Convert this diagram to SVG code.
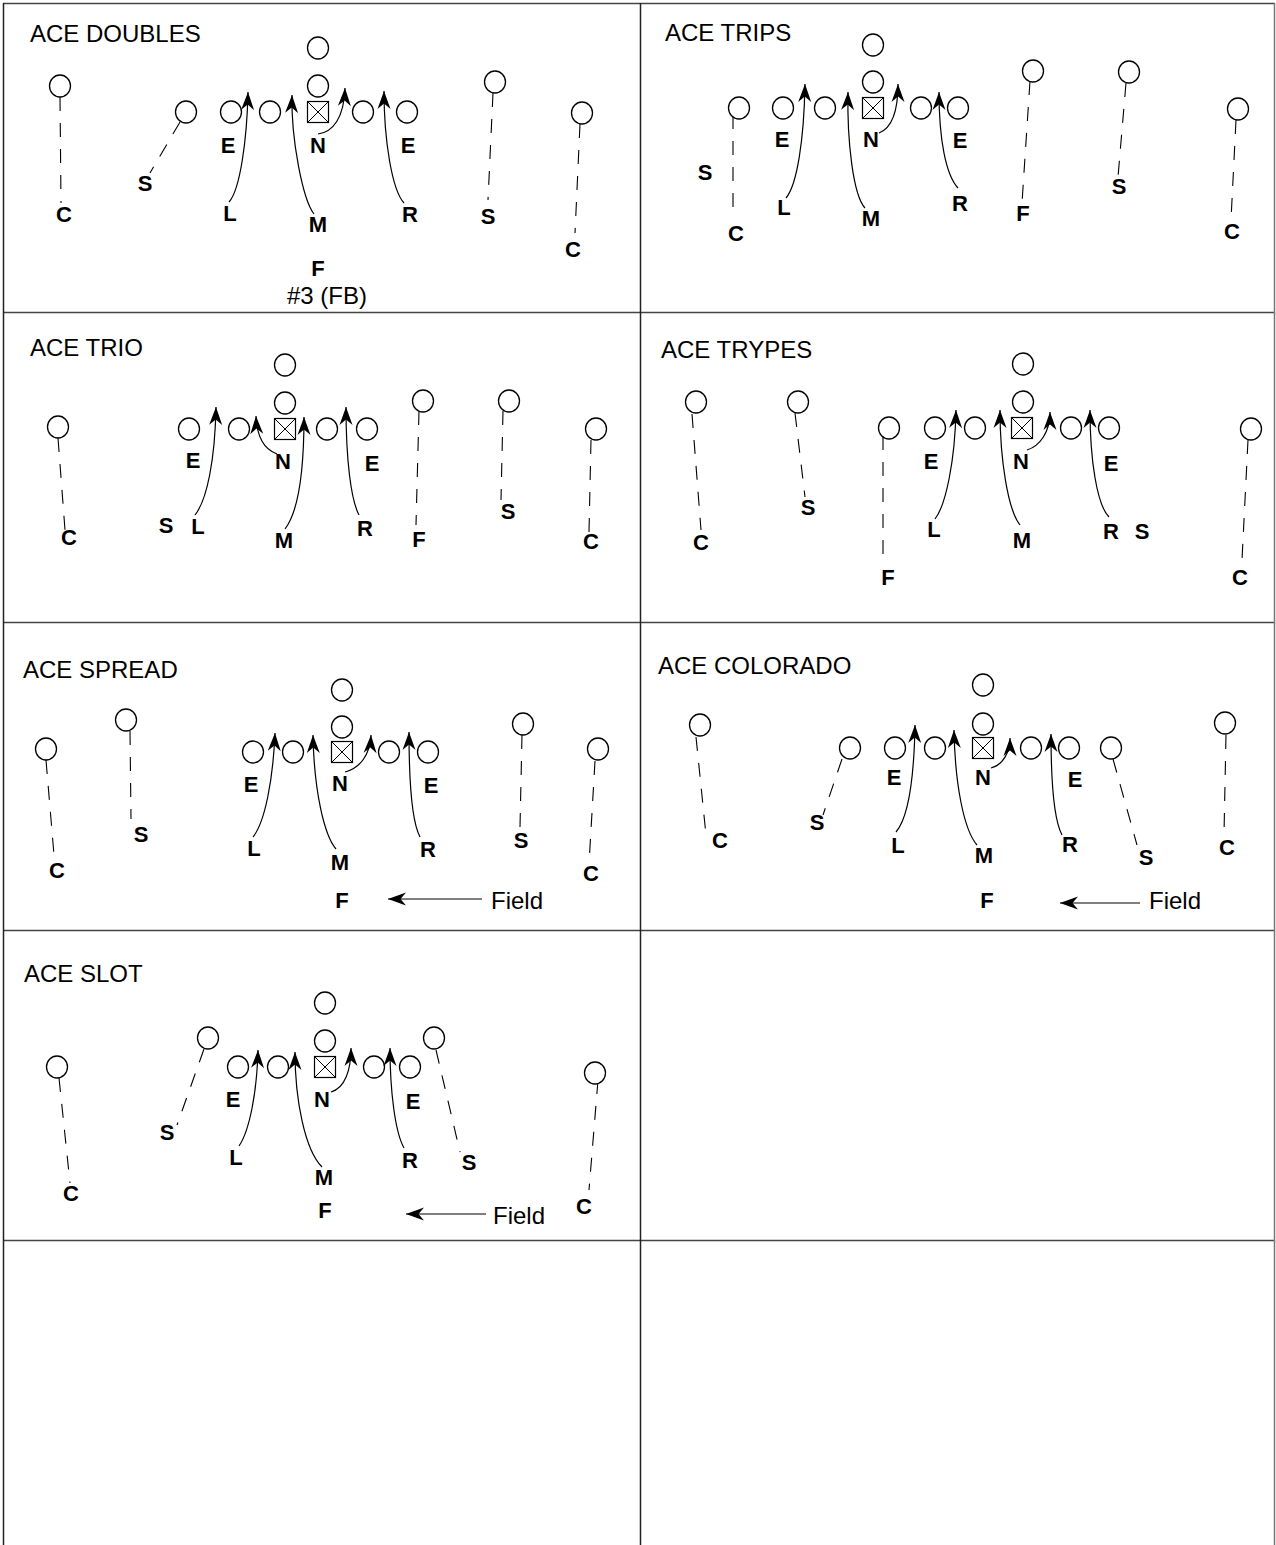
<svg xmlns="http://www.w3.org/2000/svg" width="1276" height="1545" viewBox="0 0 1276 1545">
<style>
.bg{fill:#fff}
.gh{stroke:#444;stroke-width:1.5}
.gv{stroke:#222;stroke-width:1.5}
.gr{stroke:#777;stroke-width:1.5}
.p{fill:#fff;stroke:#000;stroke-width:1.3}
.bx{fill:#fff;stroke:#000;stroke-width:1.2}
.d{fill:none;stroke:#000;stroke-width:1.1;stroke-dasharray:14 12}
.a{fill:none;stroke:#000;stroke-width:1.2;marker-end:url(#ah)}
.lb{font-family:"Liberation Sans",Arial,sans-serif;font-weight:bold;font-size:22px;text-anchor:middle;fill:#000}
.t{font-family:"Liberation Sans",Arial,sans-serif;font-size:24px;fill:#000}
</style>
<defs>
<marker id="ah" markerUnits="userSpaceOnUse" markerWidth="22" markerHeight="16" viewBox="-20 -8 22 16" refX="0" refY="0" orient="auto"><path d="M0,0 L-18,-6.5 L-12.5,0 L-18,6.5 Z" fill="#000"/></marker>
<ellipse id="pl" cx="0" cy="0" rx="10.5" ry="11" class="p"/>
<g id="ctr"><rect x="-10.5" y="-10.5" width="21" height="21" class="bx"/><path d="M-10.5,-10.5 L10.5,10.5 M10.5,-10.5 L-10.5,10.5" stroke="#000" stroke-width="1"/></g>
</defs>
<rect class="bg" x="0" y="0" width="1276" height="1545"/>
<g id="grid">
<line class="gh" x1="3" y1="3.5" x2="1275" y2="3.5"/>
<line class="gh" x1="3" y1="312.5" x2="1275" y2="312.5"/>
<line class="gh" x1="3" y1="622.5" x2="1275" y2="622.5"/>
<line class="gh" x1="3" y1="930.5" x2="1275" y2="930.5"/>
<line class="gh" x1="3" y1="1240.5" x2="1275" y2="1240.5"/>
<line class="gv" x1="3.5" y1="3" x2="3.5" y2="1545"/>
<line class="gv" x1="640.5" y1="3" x2="640.5" y2="1545"/>
<line class="gr" x1="1274.5" y1="3" x2="1274.5" y2="1545"/>
</g>

<g id="connectors">
<!-- ACE DOUBLES -->
<line class="d" x1="60" y1="97" x2="61" y2="203"/>
<line class="d" x1="180" y1="122" x2="150" y2="173"/>
<line class="d" x1="493" y1="93" x2="488" y2="200"/>
<line class="d" x1="580" y1="124" x2="575" y2="233"/>
<!-- ACE TRIPS -->
<line class="d" x1="733" y1="115" x2="733" y2="213"/>
<line class="d" x1="1030" y1="81" x2="1022" y2="203"/>
<line class="d" x1="1126" y1="83" x2="1118" y2="177"/>
<line class="d" x1="1236" y1="120" x2="1231" y2="220"/>
<!-- ACE TRIO -->
<line class="d" x1="58" y1="438" x2="65" y2="530"/>
<line class="d" x1="419" y1="411" x2="416" y2="525"/>
<line class="d" x1="503" y1="411" x2="501" y2="500"/>
<line class="d" x1="591" y1="440" x2="589" y2="532"/>
<!-- ACE TRYPES -->
<line class="d" x1="692" y1="414" x2="701" y2="530"/>
<line class="d" x1="795" y1="413" x2="805" y2="497"/>
<line class="d" x1="883" y1="436" x2="883" y2="559"/>
<line class="d" x1="1248" y1="440" x2="1242" y2="560"/>
<!-- ACE SPREAD -->
<line class="d" x1="46" y1="760" x2="54" y2="855"/>
<line class="d" x1="130" y1="731" x2="131" y2="819"/>
<line class="d" x1="522" y1="735" x2="520" y2="827"/>
<line class="d" x1="595" y1="761" x2="589" y2="864"/>
<!-- ACE COLORADO -->
<line class="d" x1="696" y1="737" x2="706" y2="835"/>
<line class="d" x1="842" y1="759" x2="823" y2="815"/>
<line class="d" x1="1113" y1="759" x2="1137" y2="845"/>
<line class="d" x1="1226" y1="735" x2="1224" y2="834"/>
<!-- ACE SLOT -->
<line class="d" x1="59" y1="1078" x2="70" y2="1183"/>
<line class="d" x1="204" y1="1049" x2="177" y2="1125"/>
<line class="d" x1="436" y1="1050" x2="460" y2="1152"/>
<line class="d" x1="598" y1="1080" x2="589" y2="1190"/>
</g>

<g id="panel-doubles">
<text class="t" x="30" y="41.6">ACE DOUBLES</text>
<use href="#pl" x="318" y="48"/><use href="#pl" x="318" y="86"/>
<use href="#pl" x="186" y="112"/><use href="#pl" x="231" y="112"/><use href="#pl" x="270" y="112"/>
<use href="#pl" x="363" y="112"/><use href="#pl" x="407" y="112"/>
<use href="#pl" x="60" y="86"/><use href="#pl" x="495" y="82"/><use href="#pl" x="582" y="113"/>
<use href="#ctr" x="318" y="112"/>
<text class="lb" x="228" y="153">E</text><text class="lb" x="318" y="153">N</text><text class="lb" x="408" y="153">E</text>
<text class="lb" x="145" y="191">S</text><text class="lb" x="64" y="222">C</text><text class="lb" x="230" y="221">L</text>
<text class="lb" x="318" y="232">M</text><text class="lb" x="410" y="222">R</text><text class="lb" x="488" y="224">S</text>
<text class="lb" x="573" y="257">C</text><text class="lb" x="318" y="276">F</text>
<text class="t" x="327" y="304" text-anchor="middle" font-size="23">#3 (FB)</text>
</g>

<g id="panel-trips">
<text class="t" x="665" y="40.6">ACE TRIPS</text>
<use href="#pl" x="873" y="45"/><use href="#pl" x="873" y="82"/>
<use href="#pl" x="739" y="108"/><use href="#pl" x="783" y="108"/><use href="#pl" x="825" y="108"/>
<use href="#pl" x="921" y="108"/><use href="#pl" x="958" y="108"/>
<use href="#pl" x="1033" y="71"/><use href="#pl" x="1129" y="72"/><use href="#pl" x="1238" y="109"/>
<use href="#ctr" x="873" y="108"/>
<text class="lb" x="782" y="147">E</text><text class="lb" x="871" y="147">N</text><text class="lb" x="960" y="148">E</text>
<text class="lb" x="705" y="180">S</text><text class="lb" x="784" y="215">L</text><text class="lb" x="871" y="226">M</text>
<text class="lb" x="960" y="211">R</text><text class="lb" x="1023" y="221">F</text><text class="lb" x="1119" y="194">S</text>
<text class="lb" x="736" y="241">C</text><text class="lb" x="1232" y="239">C</text>
</g>

<g id="panel-trio">
<text class="t" x="30" y="355.6">ACE TRIO</text>
<use href="#pl" x="285" y="365"/><use href="#pl" x="285" y="403"/>
<use href="#pl" x="189" y="429"/><use href="#pl" x="239" y="429"/><use href="#pl" x="327" y="429"/><use href="#pl" x="367" y="429"/>
<use href="#pl" x="58" y="427"/><use href="#pl" x="423" y="401"/><use href="#pl" x="509" y="401"/><use href="#pl" x="596" y="429"/>
<use href="#ctr" x="285" y="429"/>
<text class="lb" x="193" y="468">E</text><text class="lb" x="283" y="469">N</text><text class="lb" x="372" y="471">E</text>
<text class="lb" x="166" y="533">S</text><text class="lb" x="198" y="534">L</text><text class="lb" x="284" y="548">M</text>
<text class="lb" x="365" y="536">R</text><text class="lb" x="419" y="547">F</text><text class="lb" x="508" y="519">S</text>
<text class="lb" x="69" y="545">C</text><text class="lb" x="591" y="549">C</text>
</g>

<g id="panel-trypes">
<text class="t" x="661" y="357.6">ACE TRYPES</text>
<use href="#pl" x="1023" y="364"/><use href="#pl" x="1023" y="402"/>
<use href="#pl" x="935" y="428"/><use href="#pl" x="975" y="428"/><use href="#pl" x="1071" y="428"/><use href="#pl" x="1109" y="428"/>
<use href="#pl" x="696" y="402"/><use href="#pl" x="798" y="402"/><use href="#pl" x="889" y="428"/><use href="#pl" x="1251" y="429"/>
<use href="#ctr" x="1022" y="428"/>
<text class="lb" x="931" y="469">E</text><text class="lb" x="1021" y="469">N</text><text class="lb" x="1111" y="471">E</text>
<text class="lb" x="808" y="515">S</text><text class="lb" x="701" y="550">C</text><text class="lb" x="934" y="537">L</text>
<text class="lb" x="1022" y="548">M</text><text class="lb" x="1111" y="539">R</text><text class="lb" x="1142" y="539">S</text>
<text class="lb" x="888" y="585">F</text><text class="lb" x="1240" y="585">C</text>
</g>

<g id="panel-spread">
<text class="t" x="23" y="678">ACE SPREAD</text>
<use href="#pl" x="342" y="690"/><use href="#pl" x="342" y="727"/>
<use href="#pl" x="253" y="752"/><use href="#pl" x="293" y="752"/><use href="#pl" x="389" y="752"/><use href="#pl" x="428" y="752"/>
<use href="#pl" x="46" y="749"/><use href="#pl" x="126" y="720"/><use href="#pl" x="523" y="724"/><use href="#pl" x="598" y="749"/>
<use href="#ctr" x="342" y="752"/>
<text class="lb" x="251" y="792">E</text><text class="lb" x="340" y="791">N</text><text class="lb" x="431" y="793">E</text>
<text class="lb" x="141" y="842">S</text><text class="lb" x="254" y="856">L</text><text class="lb" x="340" y="870">M</text>
<text class="lb" x="428" y="857">R</text><text class="lb" x="521" y="848">S</text><text class="lb" x="57" y="878">C</text>
<text class="lb" x="591" y="881">C</text><text class="lb" x="342" y="908">F</text>
<text class="t" x="491" y="908.5">Field</text>
</g>

<g id="panel-colorado">
<text class="t" x="658" y="673.6">ACE COLORADO</text>
<use href="#pl" x="983" y="685"/><use href="#pl" x="983" y="724"/>
<use href="#pl" x="895" y="748"/><use href="#pl" x="935" y="748"/><use href="#pl" x="1031" y="748"/><use href="#pl" x="1069" y="748"/>
<use href="#pl" x="850" y="748"/><use href="#pl" x="1111" y="748"/><use href="#pl" x="700" y="725"/><use href="#pl" x="1225" y="723"/>
<use href="#ctr" x="983" y="748"/>
<text class="lb" x="894" y="785">E</text><text class="lb" x="983" y="785">N</text><text class="lb" x="1075" y="787">E</text>
<text class="lb" x="817" y="830">S</text><text class="lb" x="720" y="848">C</text><text class="lb" x="898" y="853">L</text>
<text class="lb" x="984" y="863">M</text><text class="lb" x="1070" y="852">R</text><text class="lb" x="1146" y="865">S</text>
<text class="lb" x="1227" y="855">C</text><text class="lb" x="987" y="908">F</text>
<text class="t" x="1149" y="908.5">Field</text>
</g>

<g id="panel-slot">
<text class="t" x="24" y="982">ACE SLOT</text>
<use href="#pl" x="325" y="1003"/><use href="#pl" x="325" y="1041"/>
<use href="#pl" x="238" y="1067"/><use href="#pl" x="278" y="1067"/><use href="#pl" x="374" y="1067"/><use href="#pl" x="410" y="1067"/>
<use href="#pl" x="208" y="1038"/><use href="#pl" x="434" y="1038"/><use href="#pl" x="57" y="1067"/><use href="#pl" x="595" y="1073"/>
<use href="#ctr" x="325" y="1067"/>
<text class="lb" x="233" y="1107">E</text><text class="lb" x="322" y="1107">N</text><text class="lb" x="413" y="1109">E</text>
<text class="lb" x="167" y="1140">S</text><text class="lb" x="236" y="1165">L</text><text class="lb" x="324" y="1185">M</text>
<text class="lb" x="410" y="1168">R</text><text class="lb" x="469" y="1170">S</text><text class="lb" x="71" y="1201">C</text>
<text class="lb" x="584" y="1214">C</text><text class="lb" x="325" y="1218">F</text>
<text class="t" x="493" y="1223.5">Field</text>
</g>

<g id="arrows">
<path class="a" d="M229,202 C240,190 247,140 248,92"/>
<path class="a" d="M314,214 C303,200 291,140 292,95"/>
<path class="a" d="M318,134 C333,132 344,118 345,88"/>
<path class="a" d="M404,203 C392,190 384,140 384,91"/>

<path class="a" d="M786,198 C797,185 804,140 805,84"/>
<path class="a" d="M865,208 C853,195 847,140 848,92"/>
<path class="a" d="M879,133 C892,128 898,110 898,84"/>
<path class="a" d="M958,188 C946,175 939,140 939,92"/>

<path class="a" d="M195,515 C207,500 215,460 216,407"/>
<path class="a" d="M277,454 C266,450 257,440 256,416"/>
<path class="a" d="M285,529 C298,512 304,470 304,417"/>
<path class="a" d="M359,515 C351,500 346,460 346,407"/>

<path class="a" d="M935,519 C946,505 955,460 956,410"/>
<path class="a" d="M1020,525 C1008,510 1000,460 1000,410"/>
<path class="a" d="M1027,450 C1040,446 1050,432 1050,412"/>
<path class="a" d="M1109,517 C1097,505 1090,460 1090,410"/>

<path class="a" d="M253,837 C265,822 273,780 275,733"/>
<path class="a" d="M336,849 C324,835 314,790 313,735"/>
<path class="a" d="M345,772 C360,768 370,755 371,735"/>
<path class="a" d="M420,837 C412,822 409,780 409,732"/>
<path class="a" d="M482,899 L388,899"/>

<path class="a" d="M896,832 C908,818 914,780 915,725"/>
<path class="a" d="M977,845 C964,830 955,785 954,730"/>
<path class="a" d="M991,768 C1003,765 1010,752 1010,738"/>
<path class="a" d="M1062,835 C1054,820 1051,780 1051,734"/>
<path class="a" d="M1140,903 L1060,903"/>

<path class="a" d="M239,1146 C250,1130 257,1090 258,1050"/>
<path class="a" d="M322,1167 C305,1150 295,1100 295,1052"/>
<path class="a" d="M331,1092 C345,1088 351,1070 351,1048"/>
<path class="a" d="M404,1148 C395,1132 390,1090 390,1048"/>
<path class="a" d="M486,1214 L406,1214"/>
</g>
</svg>
